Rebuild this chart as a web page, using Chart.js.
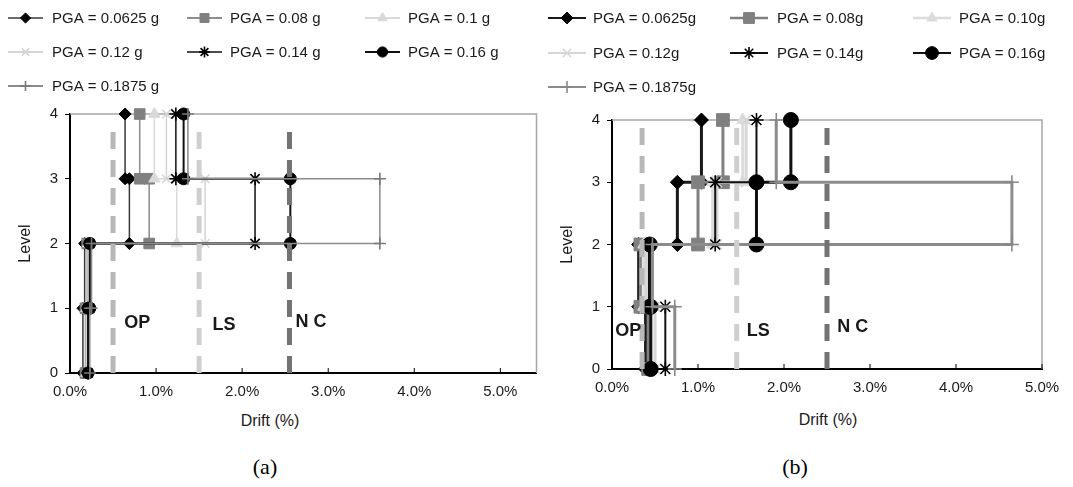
<!DOCTYPE html>
<html>
<head>
<meta charset="utf-8">
<script src="https://cdn.jsdelivr.net/npm/chart.js@4.4.1/dist/chart.umd.min.js"></script>
<style>
  body { margin: 0; width: 1073px; height: 487px; background: #fff; position: relative; overflow: hidden;
         font-family: "Liberation Sans", Arial, sans-serif; }
  #chartA { position: absolute; left: 0; top: 0; }
  #chartB { position: absolute; left: 540px; top: 0; }
  .xtitle { position: absolute; font-size: 16px; color: #1a1a1a; transform: translate(-50%, -50%); white-space: nowrap; }
  .panel { position: absolute; font-family: "Liberation Serif", "Times New Roman", serif; font-size: 22px; color: #000;
           transform: translate(-50%, -50%); }
</style>
</head>
<body>
<canvas id="chartA" width="545" height="400"></canvas>
<canvas id="chartB" width="533" height="400"></canvas>
<div class="xtitle" style="left:270px; top:421px;">Drift (%)</div>
<div class="xtitle" style="left:828px; top:420px;">Drift (%)</div>
<div class="panel" style="left:265px; top:467px;">(a)</div>
<div class="panel" style="left:795px; top:467px;">(b)</div>
<script>
// niveles y ticks
const levels = [0, 1, 2, 3, 4];
const xTicks = [0, 1, 2, 3, 4, 5];

// leyendas
const pgaA = ['PGA = 0.0625 g', 'PGA = 0.08 g', 'PGA = 0.1 g', 'PGA = 0.12 g', 'PGA = 0.14 g', 'PGA = 0.16 g', 'PGA = 0.1875 g'];
const pgaB = ['PGA = 0.0625g', 'PGA = 0.08g', 'PGA = 0.10g', 'PGA = 0.12g', 'PGA = 0.14g', 'PGA = 0.16g', 'PGA = 0.1875g'];

// drift por piso (piso 1..4), grafico (a)
const driftA0625 = [0.15, 0.17, 0.69, 0.64];
const driftA08   = [0.18, 0.20, 0.92, 0.81];
const driftA10   = [0.19, 0.21, 1.24, 0.98];
const driftA12   = [0.20, 0.22, 1.57, 1.12];
const driftA14   = [0.21, 0.23, 2.15, 1.23];
const driftA16   = [0.21, 0.23, 2.56, 1.32];
const driftA1875 = [0.23, 0.25, 3.60, 1.37];

// drift por piso, grafico (b)
const driftB0625 = [0.39, 0.31, 0.76, 1.04];
const driftB08   = [0.42, 0.33, 1.00, 1.29];
const driftB10   = [0.46, 0.37, 1.17, 1.52];
const driftB12   = [0.50, 0.40, 1.22, 1.56];
const driftB14   = [0.62, 0.43, 1.20, 1.68];
const driftB16   = [0.45, 0.44, 1.68, 2.08];
const driftB1875 = [0.73, 0.47, 4.65, 1.91];

// limites de desempeño
const limitNames = ['OP', 'LS', 'N C'];
const limitsA = [0.5, 1.5, 2.55];
const limitsB = [0.35, 1.45, 2.5];
const limitTopA = 3.73;
const limitTopB = 3.87;

const limitColors = ['#b8b8b8', '#cfcfcf', '#737373'];

const styleA = [
  { line: '#3a3a3a', mark: '#000', ps: 'rectRot', r: 6, lw: 1.5 },
  { line: '#8c8c8c', mark: '#808080', ps: 'rect', r: 7.5, lw: 1.5 },
  { line: '#d9d9d9', mark: '#d9d9d9', ps: 'triangle', r: 6.5, lw: 1.5 },
  { line: '#d4d4d4', mark: '#d4d4d4', ps: 'crossRot', r: 6, lw: 1.5 },
  { line: '#111', mark: '#000', ps: 'star', r: 6.5, lw: 1.5 },
  { line: '#111', mark: '#000', ps: 'circle', r: 6, lw: 2 },
  { line: '#8c8c8c', mark: '#777', ps: 'cross', r: 6, lw: 1.5 }
];
const styleB = [
  { line: '#1a1a1a', mark: '#000', ps: 'rectRot', r: 7, lw: 3 },
  { line: '#808080', mark: '#808080', ps: 'rect', r: 9, lw: 3 },
  { line: '#dcdcdc', mark: '#dcdcdc', ps: 'triangle', r: 7, lw: 3 },
  { line: '#d6d6d6', mark: '#d6d6d6', ps: 'crossRot', r: 7, lw: 3 },
  { line: '#111', mark: '#000', ps: 'star', r: 7, lw: 2 },
  { line: '#111', mark: '#000', ps: 'circle', r: 7.5, lw: 3 },
  { line: '#8c8c8c', mark: '#888', ps: 'cross', r: 7, lw: 3 }
];

// Función para armar la escalera drift-nivel
function stairs(drifts) {
  const pts = [];
  drifts.forEach((d, i) => {
    pts.push({ x: d, y: levels[i] });
    pts.push({ x: d, y: levels[i + 1] });
  });
  return pts;
}

function buildDatasets(series, names, styles, limits, limitTop) {
  const ds = series.map((s, i) => {
    const st = styles[i];
    const stroked = ['cross', 'crossRot', 'star'].includes(st.ps);
    return {
      label: names[i],
      data: stairs(s),
      showLine: true,
      borderColor: st.line,
      borderWidth: st.lw,
      pointStyle: st.ps,
      pointRadius: st.r,
      pointBackgroundColor: st.mark,
      pointBorderColor: st.mark,
      pointBorderWidth: stroked ? 1.6 : 1,
      order: 20 - i,
      clip: false
    };
  });
  limits.forEach((v, i) => {
    ds.push({
      label: limitNames[i],
      data: [{ x: v, y: 0 }, { x: v, y: limitTop }],
      showLine: true,
      borderColor: limitColors[i],
      borderWidth: 5,
      borderDash: [17, 11],
      pointRadius: 0,
      order: 0,
      clip: false,
      isLimit: true
    });
  });
  return ds;
}

const drawPt = (Chart.helpers && Chart.helpers.drawPoint) || function (ctx, o, x, y) {
  ctx.beginPath(); ctx.arc(x, y, o.radius, 0, Math.PI * 2); ctx.fill();
};

// marco, ticks interiores, etiquetas y leyenda
const extras = {
  id: 'extras',
  beforeDatasetsDraw(chart) {
    const { ctx, chartArea: a, scales: { x } } = chart;
    ctx.save();
    ctx.strokeStyle = '#a6a6a6';
    ctx.lineWidth = 1.5;
    ctx.beginPath();
    ctx.moveTo(a.left, a.top);
    ctx.lineTo(a.right, a.top);
    ctx.lineTo(a.right, a.bottom);
    ctx.stroke();
    ctx.strokeStyle = '#000';
    ctx.lineWidth = 1;
    xTicks.forEach(v => {
      const px = x.getPixelForValue(v);
      ctx.beginPath();
      ctx.moveTo(px, a.bottom);
      ctx.lineTo(px, a.bottom - 5);
      ctx.stroke();
    });
    ctx.restore();
  },
  afterDraw(chart, args, opts) {
    const { ctx, scales: { x, y } } = chart;
    ctx.save();
    ctx.fillStyle = '#1a1a1a';
    ctx.font = 'bold 18px "Liberation Sans", Arial, sans-serif';
    ctx.textAlign = 'center';
    ctx.textBaseline = 'middle';
    opts.labels.forEach((t, i) => {
      ctx.fillText(limitNames[i], x.getPixelForValue(t.x), y.getPixelForValue(t.y));
    });
    // leyenda
    const lg = opts.legend;
    ctx.font = '15px "Liberation Sans", Arial, sans-serif';
    ctx.textAlign = 'left';
    chart.data.datasets.forEach((d, i) => {
      if (d.isLimit) return;
      const col = i % 3, row = Math.floor(i / 3);
      const lx = lg.lineX[col], ly = lg.rowY[row];
      ctx.strokeStyle = d.borderColor;
      ctx.lineWidth = lg.lw[i];
      ctx.setLineDash([]);
      ctx.beginPath();
      ctx.moveTo(lx, ly);
      ctx.lineTo(lx + lg.len, ly);
      ctx.stroke();
      ctx.fillStyle = d.pointBackgroundColor;
      ctx.strokeStyle = d.pointBorderColor;
      ctx.lineWidth = d.pointBorderWidth;
      drawPt(ctx, { pointStyle: d.pointStyle, radius: d.pointRadius * 0.85, rotation: 0, borderWidth: d.pointBorderWidth }, lx + lg.len / 2, ly);
      ctx.fillStyle = '#1a1a1a';
      ctx.fillText(d.label, lg.textX[col], ly + 1);
    });
    ctx.restore();
  }
};

function makeChart(id, datasets, xMax, cfg) {
  return new Chart(document.getElementById(id).getContext('2d'), {
    type: 'scatter',
    data: { datasets: datasets },
    plugins: [extras],
    options: {
      responsive: false,
      animation: false,
      layout: { padding: { top: cfg.top, right: cfg.right, left: 0, bottom: 0 } },
      plugins: {
        legend: { display: false },
        tooltip: { enabled: false },
        extras: { labels: cfg.labels, legend: cfg.legend }
      },
      scales: {
        x: {
          type: 'linear', min: 0, max: xMax,
          afterBuildTicks: s => { s.ticks = xTicks.map(v => ({ value: v })); },
          afterFit: s => { s.height = cfg.xh; },
          ticks: { padding: 10, color: '#1a1a1a', font: { size: 15, family: '"Liberation Sans", Arial' },
                   callback: v => v.toFixed(1) + '%' },
          grid: { drawOnChartArea: false, drawTicks: false },
          border: { color: '#000', width: 2 }
        },
        y: {
          type: 'linear', min: 0, max: 4,
          afterBuildTicks: s => { s.ticks = levels.map(v => ({ value: v })); },
          afterFit: s => { s.width = cfg.yw; },
          ticks: { padding: 7, color: '#1a1a1a', font: { size: 15, family: '"Liberation Sans", Arial' } },
          grid: { drawOnChartArea: false, drawTicks: true, tickLength: 5, color: '#000' },
          border: { color: '#000', width: 2 },
          title: { display: true, text: 'Level', color: '#1a1a1a', padding: { top: cfg.tp, bottom: 0 },
                   font: { size: 16, family: '"Liberation Sans", Arial' } }
        }
      }
    }
  });
}

makeChart('chartA',
  buildDatasets([driftA0625, driftA08, driftA10, driftA12, driftA14, driftA16, driftA1875], pgaA, styleA, limitsA, limitTopA),
  5.42,
  {
    top: 114, right: 7, xh: 27, yw: 70, tp: 16,
    labels: [{ x: 0.78, y: 0.77 }, { x: 1.79, y: 0.74 }, { x: 2.8, y: 0.78 }],
    legend: { lineX: [8, 187, 365], textX: [52, 230, 408], rowY: [18, 52, 86], len: 35, lw: [1.5, 2, 2, 2, 1.5, 2, 2] }
  });

makeChart('chartB',
  buildDatasets([driftB0625, driftB08, driftB10, driftB12, driftB14, driftB16, driftB1875], pgaB, styleB, limitsB, limitTopB),
  5,
  {
    top: 120, right: 31, xh: 31, yw: 72, tp: 18,
    labels: [{ x: 0.19, y: 0.61 }, { x: 1.7, y: 0.61 }, { x: 2.8, y: 0.68 }],
    legend: { lineX: [8, 190, 373], textX: [53, 237, 419], rowY: [18, 53, 87], len: 38, lw: [2, 2.5, 2.5, 2, 2, 2, 2] }
  });
</script>
</body>
</html>
